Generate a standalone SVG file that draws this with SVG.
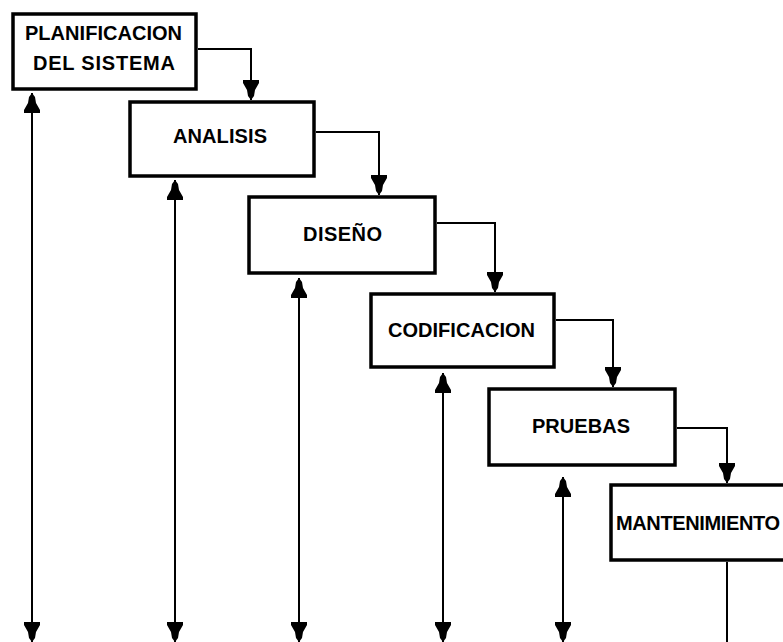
<svg xmlns="http://www.w3.org/2000/svg" width="783" height="642" viewBox="0 0 783 642">
<style>
.box{fill:#fff;stroke:#000;stroke-width:3.5}
.lbl{font-family:"Liberation Sans",Arial,sans-serif;font-weight:bold;font-size:20px;fill:#000}
.ln{fill:none;stroke:#000;stroke-width:2}
.arr{marker-end:url(#ah)}
.dbl{marker-start:url(#ah);marker-end:url(#ah)}
</style>
<defs>
<marker id="ah" viewBox="-20 -8 20 16" refX="0" refY="0" markerWidth="20" markerHeight="16" markerUnits="userSpaceOnUse" orient="auto-start-reverse">
<path d="M0,0 L-4,-3 L-10,-4 L-17,-8 L-20,-8 L-20,8 L-17,8 L-10,4 L-4,3 Z" fill="#000"/>
</marker>
</defs>
<rect width="783" height="642" fill="#fff"/>
<g id="connectors">
<polyline class="ln arr" points="198,49 251,49 251,100"/>
<polyline class="ln arr" points="316,132 379,132 379,195"/>
<polyline class="ln arr" points="437,223 495,223 495,292"/>
<polyline class="ln arr" points="556,320 613,320 613,387"/>
<polyline class="ln arr" points="677,428 727,428 727,483"/>
<line class="ln" x1="727" y1="562" x2="727" y2="642"/>
<line class="ln dbl" x1="32" y1="93" x2="32" y2="642"/>
<line class="ln dbl" x1="175" y1="180" x2="175" y2="642"/>
<line class="ln dbl" x1="299" y1="278" x2="299" y2="642"/>
<line class="ln dbl" x1="443" y1="373" x2="443" y2="642"/>
<line class="ln dbl" x1="563" y1="477" x2="563" y2="642"/>
</g>
<g id="planificacion">
<rect class="box" x="13" y="14" width="183" height="75"/>
<text class="lbl" x="25" y="40" textLength="157">PLANIFICACION</text>
<text class="lbl" x="33" y="70" textLength="142">DEL SISTEMA</text>
</g>
<g id="analisis">
<rect class="box" x="130" y="102" width="184" height="74"/>
<text class="lbl" x="173" y="143" textLength="94">ANALISIS</text>
</g>
<g id="diseno">
<rect class="box" x="249" y="197" width="186" height="76"/>
<text class="lbl" x="303" y="241" textLength="79">DISEÑO</text>
</g>
<g id="codificacion">
<rect class="box" x="371" y="294" width="183" height="73"/>
<text class="lbl" x="388" y="337" textLength="147">CODIFICACION</text>
</g>
<g id="pruebas">
<rect class="box" x="489" y="389" width="186" height="76"/>
<text class="lbl" x="532" y="433" textLength="98">PRUEBAS</text>
</g>
<g id="mantenimiento">
<rect class="box" x="611" y="485" width="190" height="75"/>
<text class="lbl" x="616" y="530" textLength="164">MANTENIMIENTO</text>
</g>
</svg>
